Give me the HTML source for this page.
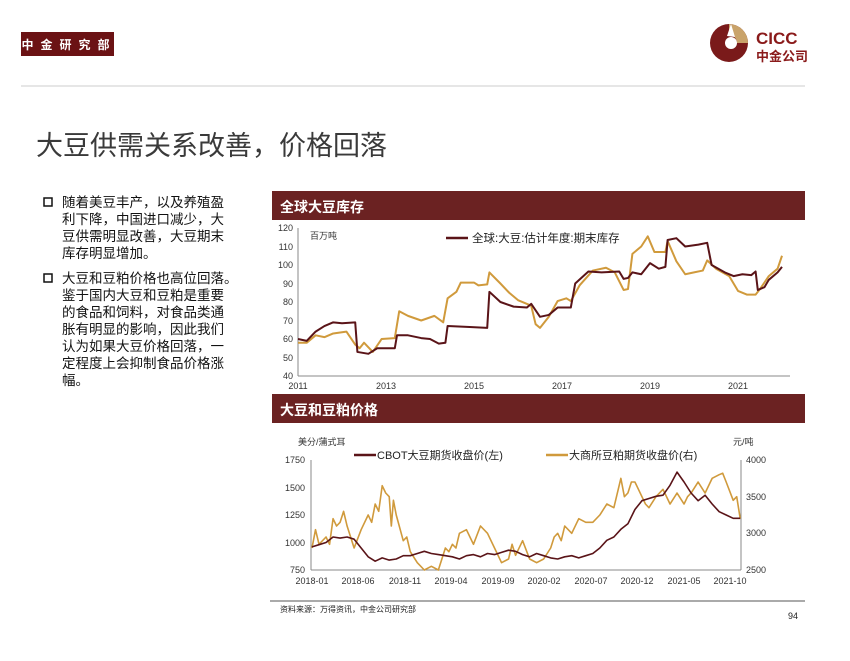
<!DOCTYPE html>
<html><head><meta charset="utf-8"><style>
body{margin:0;background:#fff;}
svg text{font-family:"Liberation Sans","Noto Sans CJK SC",sans-serif;}
</style></head><body>
<svg width="850" height="656" viewBox="0 0 850 656" xmlns="http://www.w3.org/2000/svg">
<rect width="850" height="656" fill="#fff"/>
<rect x="21" y="32" width="93" height="24" fill="#6b1214"/>
<text x="69" y="49" font-size="12" fill="#fff" text-anchor="middle" font-weight="bold" letter-spacing="7">中金研究部</text>
<circle cx="729" cy="43" r="19" fill="#7a1a1a"/>
<path d="M729 24 A19 19 0 0 1 748 43 L737 43 A8 8 0 0 0 729 35 Z" fill="#c9a36a"/>
<circle cx="731" cy="43" r="6" fill="#fff"/>
<path d="M727 36 L731 24 L735 37 Z" fill="#fff"/>
<text x="756" y="44" font-size="17" fill="#8a1a1a" font-weight="bold">CICC</text>
<text x="756" y="61" font-size="13" fill="#8a1a1a" font-weight="bold">中金公司</text>
<line x1="21" y1="86" x2="805" y2="86" stroke="#ddd" stroke-width="1.5"/>
<text x="36" y="155" font-size="27" fill="#3a3a3a">大豆供需关系改善，价格回落</text>
<g font-size="13.5" fill="#111">
<rect x="44" y="198" width="8" height="8" fill="none" stroke="#111" stroke-width="1.5"/>
<text x="62" y="207">随着美豆丰产，以及养殖盈</text>
<text x="62" y="224">利下降，中国进口减少，大</text>
<text x="62" y="241">豆供需明显改善，大豆期末</text>
<text x="62" y="258">库存明显增加。</text>
<rect x="44" y="274" width="8" height="8" fill="none" stroke="#111" stroke-width="1.5"/>
<text x="62" y="283">大豆和豆粕价格也高位回落。</text>
<text x="62" y="300">鉴于国内大豆和豆粕是重要</text>
<text x="62" y="317">的食品和饲料，对食品类通</text>
<text x="62" y="334">胀有明显的影响，因此我们</text>
<text x="62" y="351">认为如果大豆价格回落，一</text>
<text x="62" y="368">定程度上会抑制食品价格涨</text>
<text x="62" y="385">幅。</text>
</g>
<rect x="272" y="191" width="533" height="29" fill="#6b2222"/>
<text x="280" y="212" font-size="14" fill="#fff" font-weight="bold">全球大豆库存</text>
<rect x="272" y="394" width="533" height="29" fill="#6b2222"/>
<text x="280" y="415" font-size="14" fill="#fff" font-weight="bold">大豆和豆粕价格</text>
<!-- chart 1 -->
<g stroke="#888" stroke-width="1" fill="none">
<line x1="298" y1="228" x2="298" y2="376"/><line x1="298" y1="376" x2="790" y2="376"/>
</g>
<g font-size="9" fill="#333" text-anchor="end">
<text x="293" y="231">120</text><text x="293" y="250">110</text><text x="293" y="268">100</text><text x="293" y="287">90</text><text x="293" y="305">80</text><text x="293" y="324">70</text><text x="293" y="342">60</text><text x="293" y="361">50</text><text x="293" y="379">40</text>
</g>
<g font-size="9" fill="#333" text-anchor="middle">
<text x="298" y="389">2011</text><text x="386" y="389">2013</text><text x="474" y="389">2015</text><text x="562" y="389">2017</text><text x="650" y="389">2019</text><text x="738" y="389">2021</text>
</g>
<text x="310" y="239" font-size="9" fill="#333">百万吨</text>
<line x1="446" y1="238" x2="468" y2="238" stroke="#5a1418" stroke-width="2.5"/>
<text x="472" y="242" font-size="11.5" fill="#222">全球:大豆:估计年度:期末库存</text>
<g transform="translate(298,450) scale(44,-1.85) translate(-2011,0)" fill="none" stroke-width="2" stroke-linejoin="round">
<polyline vector-effect="non-scaling-stroke" stroke="#d09a3c" points="2011,58 2011.2,58 2011.4,62 2011.6,61 2011.8,63 2012.1,64 2012.3,57 2012.4,55 2012.5,58 2012.7,53 2012.9,60 2013.2,60.5 2013.3,75 2013.5,72.5 2013.8,70 2014.1,72.5 2014.3,69 2014.4,82 2014.6,85.5 2014.7,90.5 2015,90.5 2015.1,89 2015.3,89.5 2015.35,96 2015.6,90 2015.8,85 2016,81 2016.3,78 2016.4,68 2016.5,66 2016.7,72 2016.9,80.5 2017.1,82 2017.2,80.5 2017.4,89 2017.7,97 2018,98.5 2018.2,96 2018.4,86.5 2018.5,87 2018.6,106 2018.8,110 2018.95,115.5 2019.1,107 2019.35,107 2019.4,113 2019.6,102 2019.8,95 2020,96 2020.2,97 2020.3,102.5 2020.5,98 2020.8,94 2021,86 2021.2,84 2021.4,84 2021.5,87 2021.7,94 2021.9,98 2022,105"/>
<polyline vector-effect="non-scaling-stroke" stroke="#5a1418" points="2011,60 2011.2,59 2011.4,64 2011.6,67 2011.8,69 2012,68.5 2012.3,69 2012.35,53 2012.6,52 2012.8,55 2013,55 2013.2,55 2013.25,62 2013.5,62 2013.8,60.5 2014,60 2014.2,57.5 2014.35,58 2014.4,67 2014.9,66.5 2015.3,66 2015.35,85.5 2015.6,80 2015.9,77.5 2016.2,77 2016.3,79 2016.5,72 2016.7,73 2016.9,77 2017.2,77 2017.3,90 2017.6,96.5 2017.9,96 2018.3,96.5 2018.4,92.5 2018.5,93 2018.6,96 2018.8,95 2019,101 2019.2,98 2019.35,99 2019.4,113.5 2019.6,114.5 2019.8,110 2020.1,111 2020.3,112 2020.4,100 2020.7,96 2020.9,94 2021.1,95 2021.3,94.5 2021.4,96.5 2021.45,86.5 2021.6,88 2021.7,92 2021.9,96 2022,99"/>
</g>
<!-- chart 2 -->
<g stroke="#888" stroke-width="1" fill="none">
<line x1="311" y1="460" x2="311" y2="570"/><line x1="741" y1="460" x2="741" y2="570"/><line x1="311" y1="570" x2="741" y2="570"/>
</g>
<text x="298" y="445" font-size="9" fill="#333">美分/蒲式耳</text>
<text x="733" y="445" font-size="9" fill="#333">元/吨</text>
<g font-size="9" fill="#333" text-anchor="end">
<text x="305" y="463">1750</text><text x="305" y="491">1500</text><text x="305" y="518">1250</text><text x="305" y="546">1000</text><text x="305" y="573">750</text>
</g>
<g font-size="9" fill="#333">
<text x="746" y="463">4000</text><text x="746" y="500">3500</text><text x="746" y="536">3000</text><text x="746" y="573">2500</text>
</g>
<g font-size="9" fill="#333" text-anchor="middle">
<text x="312" y="584">2018-01</text><text x="358" y="584">2018-06</text><text x="405" y="584">2018-11</text><text x="451" y="584">2019-04</text><text x="498" y="584">2019-09</text><text x="544" y="584">2020-02</text><text x="591" y="584">2020-07</text><text x="637" y="584">2020-12</text><text x="684" y="584">2021-05</text><text x="730" y="584">2021-10</text>
</g>
<line x1="354" y1="455" x2="376" y2="455" stroke="#5a1418" stroke-width="2.5"/>
<text x="377" y="459" font-size="11" fill="#222">CBOT大豆期货收盘价(左)</text>
<line x1="546" y1="455" x2="568" y2="455" stroke="#d09a3c" stroke-width="2.5"/>
<text x="569" y="459" font-size="11" fill="#222">大商所豆粕期货收盘价(右)</text>
<g transform="translate(312,753.33) scale(7.02,-0.07333)" fill="none" stroke-width="1.6" stroke-linejoin="round">
<polyline vector-effect="non-scaling-stroke" stroke="#d09a3c" points="0,2800 0.5,3050 1,2850 2,2950 2.5,2850 3,3200 3.5,3100 4,3150 4.5,3300 5,3100 6,2800 7,3050 8,3250 8.5,3150 9,3400 9.5,3300 10,3650 10.5,3550 11,3500 11.3,3100 11.6,3450 12,3250 13,2900 13.5,2950 14,2750 15,2600 16,2500 17,2550 18,2500 19,2800 19.5,2750 20,2850 20.5,2800 21,3000 22,3050 22.5,2950 23,2850 24,3100 25,3000 26,2800 26.5,2700 27,2600 28,2650 28.5,2850 29,2700 30,2900 31,2650 32,2600 33,2650 34,2800 34.5,2950 35,3000 35.5,2900 36,3100 37,3000 38,3200 39,3150 40,3150 41,3250 42,3400 43,3350 44,3750 44.5,3500 45,3550 45.5,3700 46,3700 47,3500 47.5,3400 48,3350 49,3500 50,3600 51,3400 52,3550 53,3400 53.5,3500 54,3550 55,3700 56,3550 57,3750 58,3800 58.5,3820 59,3700 60,3450 60.5,3500 61,3200"/>
</g>
<g transform="translate(312,652.5) scale(7.02,-0.11)" fill="none" stroke-width="1.6" stroke-linejoin="round">
<polyline vector-effect="non-scaling-stroke" stroke="#5a1418" points="0,960 1,980 2,1000 3,1050 4,1040 5,1050 6,1030 7,950 8,870 9,830 10,860 11,840 12,850 13,880 14,880 15,900 16,920 17,900 18,890 19,880 20,870 21,850 22,880 23,890 24,870 25,900 26,890 27,910 28,930 29,920 30,890 31,870 32,900 33,880 34,860 35,850 36,870 37,880 38,860 39,880 40,900 41,950 42,1020 43,1050 44,1120 45,1170 46,1300 47,1380 48,1400 49,1420 50,1430 51,1520 52,1640 53,1550 54,1450 55,1380 56,1430 57,1350 58,1280 59,1250 60,1220 61,1220"/>
</g>
<line x1="270" y1="601" x2="805" y2="601" stroke="#555" stroke-width="1"/>
<text x="280" y="612" font-size="8" fill="#222">资料来源：万得资讯，中金公司研究部</text>
<text x="788" y="619" font-size="9" fill="#222">94</text>
</svg>
</body></html>
